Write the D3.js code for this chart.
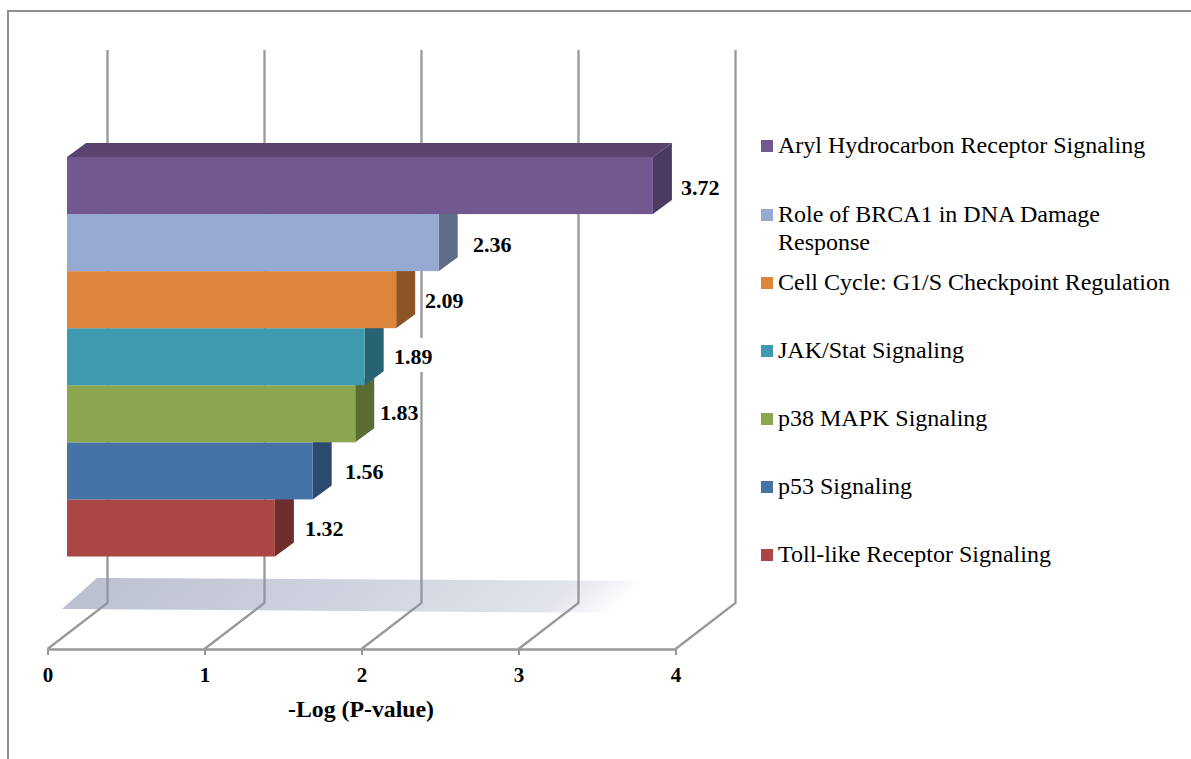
<!DOCTYPE html>
<html>
<head>
<meta charset="utf-8">
<script src="https://cdn.jsdelivr.net/npm/d3@7"></script>
<style>
  html, body { margin: 0; padding: 0; background: #fff; }
  svg { display: block; }
  text { font-family: "Liberation Serif", "Times New Roman", serif; fill: #000; }
</style>
</head>
<body>
<div id="chart"></div>
<script>
// Pathways ranked by enrichment, top bar first
const pathways = [
  "Aryl Hydrocarbon Receptor Signaling",
  "Role of BRCA1 in DNA Damage Response",
  "Cell Cycle: G1/S Checkpoint Regulation",
  "JAK/Stat Signaling",
  "p38 MAPK Signaling",
  "p53 Signaling",
  "Toll-like Receptor Signaling"
];
const logP = [3.72, 2.36, 2.09, 1.89, 1.83, 1.56, 1.32];
const valueLabels = ["3.72", "2.36", "2.09", "1.89", "1.83", "1.56", "1.32"];
const frontColors = ["#71588f", "#95a9d1", "#dc853b", "#3f9ab0", "#8aa64e", "#4572a7", "#aa4643"];
const sideColors = ["#4c3b60", "#5f6e88", "#8e5427", "#286373", "#5a6c33", "#2c4a6f", "#6e2d2b"];
const topColor = "#59426e";
const xTicks = [0, 1, 2, 3, 4];
const legendLines = [
  ["Aryl Hydrocarbon Receptor Signaling"],
  ["Role of BRCA1 in DNA Damage", "Response"],
  ["Cell Cycle: G1/S Checkpoint Regulation"],
  ["JAK/Stat Signaling"],
  ["p38 MAPK Signaling"],
  ["p53 Signaling"],
  ["Toll-like Receptor Signaling"]
];

const width = 1191, height = 759;
const svg = d3.select("#chart").append("svg").attr("width", width).attr("height", height);

// Frame: only top and left edges are inside the canvas
svg.append("path")
  .attr("d", `M8,${height}V11H${width}`)
  .attr("fill", "none").attr("stroke", "#8f8f8f").attr("stroke-width", 2);

// Oblique projection: the floor and back wall are offset up and to the right
const axisY = 649, wallTop = 50;
const depth = { dx: 60, dy: -46 };
const x = d3.scaleLinear().domain([0, 4]).range([47.5, 675.5]);
const barX = d3.scaleLinear().domain([0, 4]).range([67, 697]);
const y = d3.scaleBand().domain(pathways).range([157, 556.5]);
const barDepth = { dx: 19, dy: -14 };
const gridColor = "#989898";

// Wall gridlines, each folding forward across the floor to its tick
svg.append("g").selectAll("path").data(xTicks).join("path")
  .attr("d", t => {
    const x0 = x(t), x1 = x0 + depth.dx, yb = axisY + depth.dy;
    return `M${x0},${axisY}L${x1},${yb}V${wallTop}`;
  })
  .attr("fill", "none").attr("stroke", gridColor).attr("stroke-width", 2.3);

// Front axis with ticks and bold labels
const axis = svg.append("g")
  .attr("transform", `translate(0,${axisY})`)
  .call(d3.axisBottom(x).tickValues(xTicks).tickFormat(d3.format("d")).tickSize(6).tickSizeOuter(0).tickPadding(12));
axis.select(".domain").attr("stroke", gridColor).attr("stroke-width", 2.3);
axis.selectAll(".tick line").attr("stroke", gridColor).attr("stroke-width", 2);
axis.selectAll(".tick text")
  .attr("font-size", 21).attr("font-weight", "bold").attr("fill", "#000")
  .style("font-family", '"Liberation Serif", serif');

// Floor shadow, fading out along a diagonal toward the right
const defs = svg.append("defs");
const fade = defs.append("linearGradient").attr("id", "floorFade")
  .attr("gradientUnits", "userSpaceOnUse")
  .attr("x1", 62).attr("y1", 609).attr("x2", 306).attr("y2", 884);
fade.append("stop").attr("offset", 0).attr("stop-color", "#8b93b0").attr("stop-opacity", 0.58);
fade.append("stop").attr("offset", 0.55).attr("stop-color", "#8b93b0").attr("stop-opacity", 0.38);
fade.append("stop").attr("offset", 0.87).attr("stop-color", "#8b93b0").attr("stop-opacity", 0.25);
fade.append("stop").attr("offset", 1).attr("stop-color", "#8b93b0").attr("stop-opacity", 0);
svg.append("path")
  .attr("d", "M62,609L97,578L665,581L630,613Z")
  .attr("fill", "url(#floorFade)");

// Value labels sit on white plates that interrupt the gridlines
const labelAnchors = [681, 473, 425, 394, 380, 345, 305];
const labelBaselines = [194.5, 252, 307.5, 363.5, 420, 479, 536];
const labels = svg.append("g").selectAll("g").data(pathways).join("g")
  .attr("transform", (d, i) => `translate(${labelAnchors[i]},${labelBaselines[i]})`);
const labelText = labels.append("text")
  .attr("font-size", 22).attr("font-weight", "bold")
  .text((d, i) => valueLabels[i]);
labelText.each(function () {
  const b = this.getBBox();
  d3.select(this.parentNode).insert("rect", "text")
    .attr("x", b.x - 1).attr("width", b.width + 2)
    .attr("y", -25.5).attr("height", 34).attr("fill", "#fff");
});

// Bars are painted bottom to top so each one overlaps the side face below it
const order = d3.range(pathways.length).reverse();
const bars = svg.append("g").selectAll("g").data(order).join("g");
bars.append("path")
  .attr("d", i => {
    const x1 = barX(logP[i]), y0 = y(pathways[i]), y1 = y0 + y.bandwidth();
    return `M${x1},${y0}l${barDepth.dx},${barDepth.dy}V${y1 + barDepth.dy}L${x1},${y1}Z`;
  })
  .attr("fill", i => sideColors[i]);
bars.append("rect")
  .attr("x", barX(0))
  .attr("y", i => y(pathways[i]))
  .attr("width", i => barX(logP[i]) - barX(0))
  .attr("height", y.bandwidth())
  .attr("fill", i => frontColors[i]);
bars.filter(i => i === 0).append("path")
  .attr("d", i => {
    const x0 = barX(0), x1 = barX(logP[i]), y0 = y(pathways[i]);
    return `M${x0},${y0}l${barDepth.dx},${barDepth.dy}H${x1 + barDepth.dx}L${x1},${y0}Z`;
  })
  .attr("fill", topColor);

// Axis title
svg.append("text")
  .attr("x", 361).attr("y", 717).attr("text-anchor", "middle")
  .attr("font-size", 23.8).attr("font-weight", "bold")
  .text("-Log (P-value)");

// Legend
const legendFirstLine = [146, 215, 283, 351, 419, 487, 555];
const legend = svg.append("g").selectAll("g").data(pathways).join("g")
  .attr("transform", (d, i) => `translate(761,${legendFirstLine[i]})`);
legend.append("rect")
  .attr("y", -6).attr("width", 12).attr("height", 12)
  .attr("fill", (d, i) => frontColors[i]);
legend.append("text")
  .attr("font-size", 24)
  .selectAll("tspan").data((d, i) => legendLines[i]).join("tspan")
  .attr("x", 17).attr("y", (d, j) => 7 + j * 28)
  .text(d => d);
</script>
</body>
</html>
